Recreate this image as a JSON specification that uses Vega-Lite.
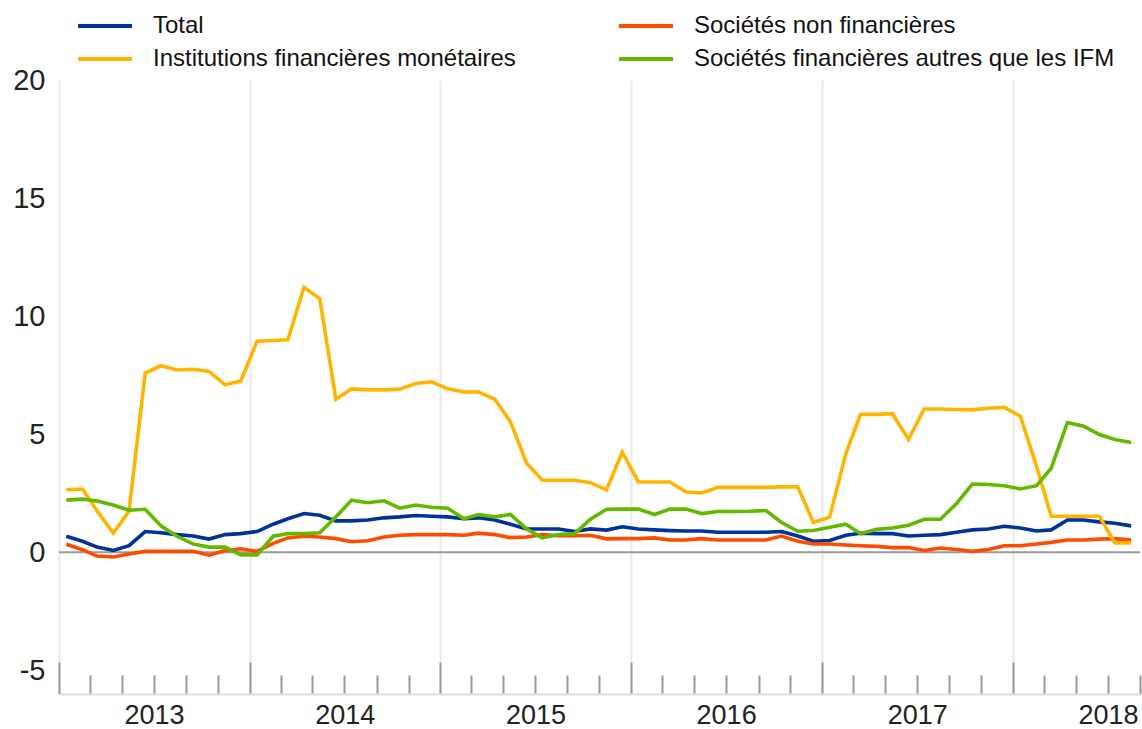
{
  "$schema": "https://vega.github.io/schema/vega-lite/v6.json",
  "width": 1081,
  "height": 614,
  "autosize": {"type": "none"},
  "padding": {"left": 59, "top": 80, "right": 2, "bottom": 35},
  "background": "white",
  "config": {
    "view": {"stroke": null},
    "font": "Liberation Sans",
    "axis": {"labelFont": "Liberation Sans"},
    "legend": {"labelFont": "Liberation Sans"}
  },
  "layer": [
    {
      "data": {"values": [{}]},
      "mark": {"type": "rule", "color": "#9a9a9a", "strokeWidth": 2},
      "encoding": {"y": {"datum": 0, "type": "quantitative"}}
    },
    {
      "data": {"values": [
        {"date": "2013-01-15", "total": 0.68, "snf": 0.34, "ifm": 2.65, "sfa": 2.21},
        {"date": "2013-02-15", "total": 0.47, "snf": 0.11, "ifm": 2.68, "sfa": 2.25},
        {"date": "2013-03-15", "total": 0.22, "snf": -0.16, "ifm": 1.75, "sfa": 2.17},
        {"date": "2013-04-15", "total": 0.08, "snf": -0.20, "ifm": 0.81, "sfa": 2.00},
        {"date": "2013-05-15", "total": 0.28, "snf": -0.07, "ifm": 1.75, "sfa": 1.78},
        {"date": "2013-06-15", "total": 0.88, "snf": 0.04, "ifm": 7.59, "sfa": 1.82},
        {"date": "2013-07-15", "total": 0.83, "snf": 0.04, "ifm": 7.90, "sfa": 1.12},
        {"date": "2013-08-15", "total": 0.75, "snf": 0.04, "ifm": 7.72, "sfa": 0.68},
        {"date": "2013-09-15", "total": 0.69, "snf": 0.04, "ifm": 7.75, "sfa": 0.35},
        {"date": "2013-10-15", "total": 0.56, "snf": -0.12, "ifm": 7.66, "sfa": 0.22},
        {"date": "2013-11-15", "total": 0.75, "snf": 0.08, "ifm": 7.09, "sfa": 0.22},
        {"date": "2013-12-15", "total": 0.79, "snf": 0.15, "ifm": 7.26, "sfa": -0.11},
        {"date": "2014-01-15", "total": 0.88, "snf": 0.04, "ifm": 8.94, "sfa": -0.11},
        {"date": "2014-02-15", "total": 1.19, "snf": 0.38, "ifm": 8.97, "sfa": 0.68},
        {"date": "2014-03-15", "total": 1.42, "snf": 0.61, "ifm": 9.00, "sfa": 0.79},
        {"date": "2014-04-15", "total": 1.64, "snf": 0.68, "ifm": 11.22, "sfa": 0.79},
        {"date": "2014-05-15", "total": 1.57, "snf": 0.65, "ifm": 10.75, "sfa": 0.83},
        {"date": "2014-06-15", "total": 1.33, "snf": 0.58, "ifm": 6.48, "sfa": 1.50},
        {"date": "2014-07-15", "total": 1.33, "snf": 0.45, "ifm": 6.92, "sfa": 2.21},
        {"date": "2014-08-15", "total": 1.37, "snf": 0.49, "ifm": 6.88, "sfa": 2.10},
        {"date": "2014-09-15", "total": 1.46, "snf": 0.65, "ifm": 6.88, "sfa": 2.18},
        {"date": "2014-10-15", "total": 1.50, "snf": 0.72, "ifm": 6.91, "sfa": 1.87},
        {"date": "2014-11-15", "total": 1.56, "snf": 0.75, "ifm": 7.15, "sfa": 2.00},
        {"date": "2014-12-15", "total": 1.53, "snf": 0.75, "ifm": 7.22, "sfa": 1.91},
        {"date": "2015-01-15", "total": 1.50, "snf": 0.75, "ifm": 6.92, "sfa": 1.87},
        {"date": "2015-02-15", "total": 1.42, "snf": 0.72, "ifm": 6.79, "sfa": 1.42},
        {"date": "2015-03-15", "total": 1.46, "snf": 0.81, "ifm": 6.79, "sfa": 1.60},
        {"date": "2015-04-15", "total": 1.37, "snf": 0.75, "ifm": 6.48, "sfa": 1.50},
        {"date": "2015-05-15", "total": 1.19, "snf": 0.62, "ifm": 5.53, "sfa": 1.60},
        {"date": "2015-06-15", "total": 0.99, "snf": 0.65, "ifm": 3.77, "sfa": 0.99},
        {"date": "2015-07-15", "total": 0.99, "snf": 0.75, "ifm": 3.05, "sfa": 0.61},
        {"date": "2015-08-15", "total": 0.99, "snf": 0.70, "ifm": 3.05, "sfa": 0.75},
        {"date": "2015-09-15", "total": 0.88, "snf": 0.70, "ifm": 3.05, "sfa": 0.79},
        {"date": "2015-10-15", "total": 0.99, "snf": 0.72, "ifm": 2.95, "sfa": 1.40},
        {"date": "2015-11-15", "total": 0.94, "snf": 0.57, "ifm": 2.64, "sfa": 1.82},
        {"date": "2015-12-15", "total": 1.08, "snf": 0.58, "ifm": 4.24, "sfa": 1.83},
        {"date": "2016-01-15", "total": 0.99, "snf": 0.58, "ifm": 2.98, "sfa": 1.83},
        {"date": "2016-02-15", "total": 0.95, "snf": 0.61, "ifm": 2.98, "sfa": 1.60},
        {"date": "2016-03-15", "total": 0.92, "snf": 0.52, "ifm": 2.98, "sfa": 1.83},
        {"date": "2016-04-15", "total": 0.90, "snf": 0.52, "ifm": 2.55, "sfa": 1.83},
        {"date": "2016-05-15", "total": 0.90, "snf": 0.58, "ifm": 2.51, "sfa": 1.64},
        {"date": "2016-06-15", "total": 0.85, "snf": 0.52, "ifm": 2.75, "sfa": 1.73},
        {"date": "2016-07-15", "total": 0.85, "snf": 0.52, "ifm": 2.75, "sfa": 1.73},
        {"date": "2016-08-15", "total": 0.85, "snf": 0.52, "ifm": 2.75, "sfa": 1.74},
        {"date": "2016-09-15", "total": 0.85, "snf": 0.52, "ifm": 2.75, "sfa": 1.77},
        {"date": "2016-10-15", "total": 0.88, "snf": 0.69, "ifm": 2.77, "sfa": 1.26},
        {"date": "2016-11-15", "total": 0.69, "snf": 0.47, "ifm": 2.77, "sfa": 0.89},
        {"date": "2016-12-15", "total": 0.47, "snf": 0.35, "ifm": 1.26, "sfa": 0.92},
        {"date": "2017-01-15", "total": 0.50, "snf": 0.35, "ifm": 1.49, "sfa": 1.06},
        {"date": "2017-02-15", "total": 0.72, "snf": 0.31, "ifm": 4.17, "sfa": 1.19},
        {"date": "2017-03-15", "total": 0.81, "snf": 0.28, "ifm": 5.84, "sfa": 0.79},
        {"date": "2017-04-15", "total": 0.79, "snf": 0.25, "ifm": 5.84, "sfa": 0.97},
        {"date": "2017-05-15", "total": 0.79, "snf": 0.20, "ifm": 5.87, "sfa": 1.03},
        {"date": "2017-06-15", "total": 0.69, "snf": 0.20, "ifm": 4.78, "sfa": 1.15},
        {"date": "2017-07-15", "total": 0.72, "snf": 0.08, "ifm": 6.07, "sfa": 1.40},
        {"date": "2017-08-15", "total": 0.75, "snf": 0.18, "ifm": 6.07, "sfa": 1.40},
        {"date": "2017-09-15", "total": 0.85, "snf": 0.12, "ifm": 6.05, "sfa": 2.07},
        {"date": "2017-10-15", "total": 0.95, "snf": 0.04, "ifm": 6.03, "sfa": 2.89},
        {"date": "2017-11-15", "total": 0.99, "snf": 0.12, "ifm": 6.10, "sfa": 2.87},
        {"date": "2017-12-15", "total": 1.10, "snf": 0.28, "ifm": 6.14, "sfa": 2.82},
        {"date": "2018-01-15", "total": 1.03, "snf": 0.28, "ifm": 5.76, "sfa": 2.68},
        {"date": "2018-02-15", "total": 0.90, "snf": 0.35, "ifm": 3.64, "sfa": 2.82},
        {"date": "2018-03-15", "total": 0.95, "snf": 0.42, "ifm": 1.53, "sfa": 3.56},
        {"date": "2018-04-15", "total": 1.37, "snf": 0.52, "ifm": 1.53, "sfa": 5.49},
        {"date": "2018-05-15", "total": 1.37, "snf": 0.52, "ifm": 1.53, "sfa": 5.35},
        {"date": "2018-06-15", "total": 1.29, "snf": 0.56, "ifm": 1.53, "sfa": 4.99},
        {"date": "2018-07-15", "total": 1.23, "snf": 0.58, "ifm": 0.40, "sfa": 4.78},
        {"date": "2018-08-15", "total": 1.12, "snf": 0.52, "ifm": 0.40, "sfa": 4.65}
      ]},
      "transform": [{"fold": ["total", "snf", "ifm", "sfa"], "as": ["series", "value"]}],
      "mark": {"type": "line", "strokeWidth": 3.6},
      "encoding": {
        "x": {
          "field": "date",
          "type": "temporal",
          "scale": {
            "type": "utc",
            "domain": [
              {"year": 2013, "month": 1, "date": 1, "utc": true},
              {"year": 2018, "month": 9, "date": 1, "utc": true}
            ]
          },
          "axis": {
            "title": null,
            "tickCount": {"interval": "month", "step": 2},
            "labelExpr": "utcmonth(datum.value) == 0 ? utcFormat(datum.value, '%Y') : ''",
            "labelOffset": 95,
            "labelFlush": false,
            "labelOverlap": false,
            "labelBound": false,
            "labelFontSize": 27,
            "labelColor": "#222222",
            "labelPadding": 40,
            "tickSize": {"condition": {"test": "utcmonth(datum.value) == 0", "value": -32}, "value": -19},
            "tickColor": "#9a9a9a",
            "tickWidth": 2,
            "grid": true,
            "gridColor": "#e9e9e9",
            "gridWidth": 2,
            "gridOpacity": {"condition": {"test": "utcmonth(datum.value) == 0", "value": 1}, "value": 0},
            "domainColor": "#dddddd",
            "domainWidth": 2
          }
        },
        "y": {
          "field": "value",
          "type": "quantitative",
          "scale": {"domain": [-5, 20]},
          "axis": {
            "title": null,
            "values": [-5, 0, 5, 10, 15, 20],
            "labelExpr": "'' + datum.value",
            "ticks": false,
            "domain": false,
            "labelFontSize": 29,
            "labelColor": "#222222",
            "labelPadding": 14,
            "gridColor": "#eeeeee",
            "gridWidth": 2
          }
        },
        "color": {
          "field": "series",
          "type": "nominal",
          "scale": {
            "domain": ["total", "ifm", "snf", "sfa"],
            "range": ["#003299", "#ffb400", "#ff4b00", "#65b800"]
          },
          "legend": {
            "title": null,
            "orient": "none",
            "legendX": 33,
            "legendY": -67,
            "columns": 2,
            "columnPadding": 95,
            "rowPadding": 8,
            "padding": 0,
            "symbolType": "M-2.5,0H2.5",
            "symbolSize": 466,
            "symbolStrokeWidth": 4,
            "labelFontSize": 24,
            "labelColor": "#111111",
            "labelOffset": 35,
            "labelLimit": 700,
            "labelExpr": "datum.label == 'total' ? 'Total' : datum.label == 'snf' ? 'Sociétés non financières' : datum.label == 'ifm' ? 'Institutions financières monétaires' : 'Sociétés financières autres que les IFM'"
          }
        }
      }
    }
  ]
}
